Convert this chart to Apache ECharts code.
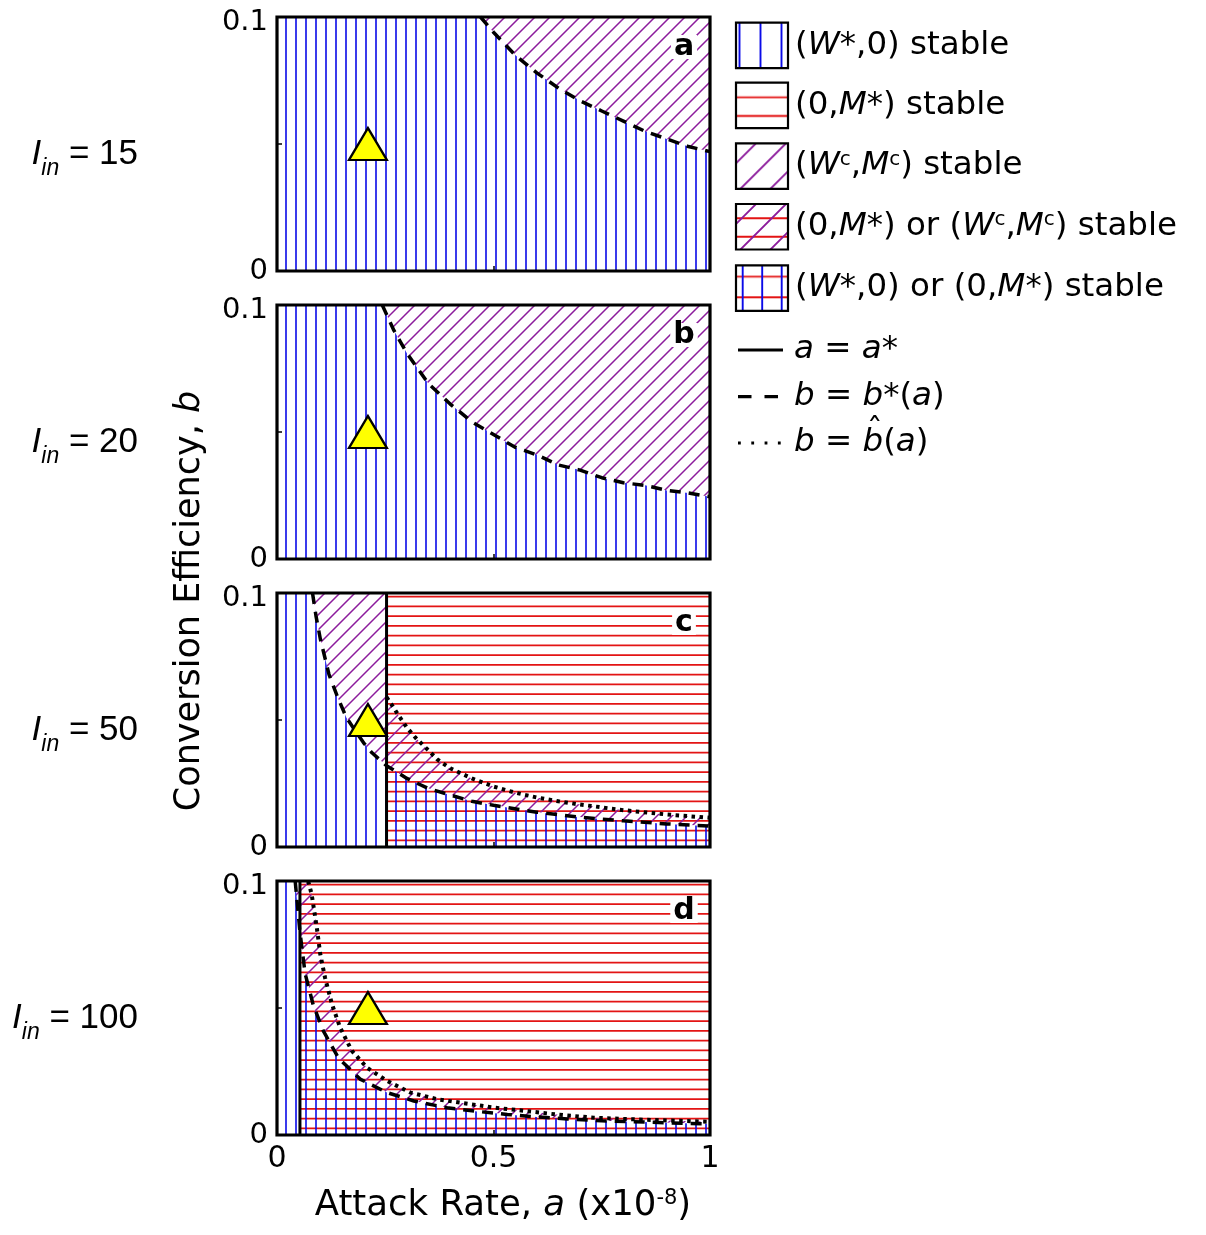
<!DOCTYPE html>
<html><head><meta charset="utf-8">
<script src="https://cdn.jsdelivr.net/npm/echarts@6/dist/echarts.min.js"></script>
<style>html,body{margin:0;padding:0;background:#fff}#c{width:1206px;height:1235px}</style>
</head><body><div id="c"></div>
<script>
// ================= DATA =================
const inflowValues = ['15', '20', '50', '100'];
const panelLetters = ['a', 'b', 'c', 'd'];
const xTicks = [0, 0.5, 1];
const xTickLabels = ['0', '0.5', '1'];
const yTicks = [0, 0.1];
const yTickLabels = ['0', '0.1'];
const trianglePoint = [0.21, 0.05];

// I_in = 15 : b = b*(a)
const bStar15_a = [0.47, 0.5, 0.55, 0.6, 0.65, 0.7, 0.75, 0.8, 0.85, 0.9, 0.95, 1.0];
const bStar15_b = [0.100, 0.094, 0.085, 0.078, 0.072, 0.067, 0.063, 0.059, 0.055, 0.052, 0.049, 0.047];
// I_in = 20
const bStar20_a = [0.243, 0.27, 0.3, 0.35, 0.4, 0.45, 0.5, 0.55, 0.6, 0.65, 0.7, 0.75, 0.8, 0.85, 0.9, 0.95, 1.0];
const bStar20_b = [0.100, 0.090, 0.081, 0.069, 0.061, 0.054, 0.049, 0.044, 0.041, 0.037, 0.035, 0.032, 0.030, 0.029, 0.027, 0.026, 0.0245];
// I_in = 50
const aStar50 = 0.253;
const bStar50_a = [0.082, 0.09, 0.1, 0.11, 0.12, 0.14, 0.16, 0.18, 0.2, 0.22, 0.253, 0.3, 0.35, 0.4, 0.45, 0.5, 0.6, 0.7, 0.8, 0.9, 1.0];
const bStar50_b = [0.100, 0.091, 0.082, 0.075, 0.068, 0.059, 0.051, 0.046, 0.041, 0.037, 0.032, 0.027, 0.023, 0.0205, 0.018, 0.0164, 0.0137, 0.0117, 0.0103, 0.0091, 0.0082];
const bHat50_a = [0.253, 0.265, 0.28, 0.3, 0.32, 0.35, 0.37, 0.4, 0.45, 0.5, 0.55, 0.6, 0.65, 0.7, 0.8, 0.9, 1.0];
const bHat50_b = [0.059, 0.056, 0.052, 0.047, 0.043, 0.038, 0.0345, 0.031, 0.027, 0.0238, 0.0214, 0.0195, 0.018, 0.0167, 0.0145, 0.0128, 0.0115];
// I_in = 100
const aStar100 = 0.053;
const bStar100_a = [0.042, 0.053, 0.065, 0.084, 0.107, 0.142, 0.192, 0.254, 0.316, 0.393, 0.462, 0.532, 0.6, 0.671, 0.75, 0.81, 0.9, 1.0];
const bStar100_b = [0.100, 0.080, 0.0635, 0.051, 0.041, 0.0303, 0.022, 0.0167, 0.0134, 0.0107, 0.0093, 0.0081, 0.0071, 0.0063, 0.0056, 0.0053, 0.0048, 0.0043];
const bHat100_a = [0.072, 0.08, 0.092, 0.1, 0.111, 0.127, 0.146, 0.173, 0.208, 0.254, 0.308, 0.37, 0.424, 0.5, 0.578, 0.65, 0.732, 0.85, 1.0];
const bHat100_b = [0.100, 0.0948, 0.0816, 0.0711, 0.0619, 0.0515, 0.0422, 0.0331, 0.0265, 0.0213, 0.0167, 0.0141, 0.0127, 0.0108, 0.0094, 0.0080, 0.0068, 0.0060, 0.0052];

// ================= SETUP =================
const X_MIN = 0, X_MAX = 1, Y_MIN = 0, Y_MAX = 0.1;
const FONT = 'DejaVu Sans';
const FONT2 = 'Liberation Sans';
const GRID_LEFT = 277, GRID_W = 433, GRID_H = 254;
const gridTops = [17, 305, 593, 881];
const BLUE = '#0a0ae8', RED = '#e31414', PURPLE = '#8c1c9c';

const pts = (A, B) => A.map((a, i) => [a, B[i]]);
const panels = [
  { star: pts(bStar15_a, bStar15_b), hat: null, aStar: null },
  { star: pts(bStar20_a, bStar20_b), hat: null, aStar: null },
  { star: pts(bStar50_a, bStar50_b), hat: pts(bHat50_a, bHat50_b), aStar: aStar50 },
  { star: pts(bStar100_a, bStar100_b), hat: pts(bHat100_a, bHat100_b), aStar: aStar100 }
];

function patternCanvas(w, h, spec) {
  const c = document.createElement('canvas'); c.width = w; c.height = h;
  const g = c.getContext('2d');
  g.fillStyle = '#fff'; g.fillRect(0, 0, w, h);
  g.lineCap = 'butt';
  if (spec.h) { const s = spec.h; g.strokeStyle = s.color; g.lineWidth = s.width; g.beginPath();
    for (let y = s.off; y < h; y += s.step) { g.moveTo(0, y); g.lineTo(w, y); } g.stroke(); }
  if (spec.d) { const s = spec.d; g.strokeStyle = s.color; g.lineWidth = s.width; g.beginPath();
    for (let k = s.off; k <= w + h + s.step; k += s.step) { g.moveTo(k, 0); g.lineTo(k - h, h); } g.stroke(); }
  if (spec.v) { const s = spec.v; g.strokeStyle = s.color; g.lineWidth = s.width; g.beginPath();
    for (let x = s.off; x < w; x += s.step) { g.moveTo(x, 0); g.lineTo(x, h); } g.stroke(); }
  return c;
}
const PAT = 390;
const vSpec = { step: 10, off: 6, color: BLUE, width: 1.6 };
const hSpec = { step: 9.75, off: 3.6, color: RED, width: 1.6 };
const dSpec = { step: 15, off: 10, color: PURPLE, width: 1.5 };
const canvases = {
  blue: patternCanvas(PAT, PAT, { v: vSpec }),
  red: patternCanvas(PAT, PAT, { h: hSpec }),
  purple: patternCanvas(PAT, PAT, { d: dSpec }),
  redPurple: patternCanvas(PAT, PAT, { h: hSpec, d: dSpec }),
  redBlue: patternCanvas(PAT, PAT, { h: hSpec, v: vSpec })
};
const fillFor = (name, top) => ({ image: canvases[name], repeat: 'repeat', x: 0, y: top });

function regionSeries(gi, poly, fill) {
  return {
    type: 'custom', coordinateSystem: 'cartesian2d', xAxisIndex: gi, yAxisIndex: gi,
    data: poly, silent: true, clip: true, z: 2,
    renderItem: function (params, api) {
      if (params.dataIndex !== 0) return null;
      return { type: 'polygon', shape: { points: poly.map(p => api.coord(p)) }, style: { fill: fill, stroke: null } };
    }
  };
}
function frameSeries(gi) {
  return {
    type: 'custom', coordinateSystem: 'cartesian2d', xAxisIndex: gi, yAxisIndex: gi,
    data: [[X_MIN, Y_MIN]], silent: true, clip: false, z: 8,
    renderItem: function (params, api) {
      const p0 = api.coord([X_MIN, Y_MAX]), p1 = api.coord([X_MAX, Y_MIN]);
      return { type: 'rect', shape: { x: p0[0], y: p0[1], width: p1[0] - p0[0], height: p1[1] - p0[1] },
        style: { fill: null, stroke: '#000', lineWidth: 3.2 } };
    }
  };
}

const grids = [], xAxes = [], yAxes = [], series = [];
panels.forEach((p, gi) => {
  const top = gridTops[gi];
  grids.push({ left: GRID_LEFT, top: top, width: GRID_W, height: GRID_H, show: false });
  xAxes.push({ gridIndex: gi, type: 'value', min: X_MIN, max: X_MAX, interval: 0.5, z: 12,
    axisLine: { show: false }, splitLine: { show: false },
    axisTick: { show: true, inside: true, length: 5, lineStyle: { color: '#000', width: 1.5 } },
    axisLabel: { show: gi === 3, margin: 9, fontSize: 30, fontFamily: FONT, color: '#000',
      showMinLabel: true, showMaxLabel: true,
      formatter: v => { const k = xTicks.findIndex(t => Math.abs(t - v) < 1e-9); return k < 0 ? '' : xTickLabels[k]; } } });
  yAxes.push({ gridIndex: gi, type: 'value', min: Y_MIN, max: Y_MAX, interval: 0.05, z: 12,
    axisLine: { show: false }, splitLine: { show: false },
    axisTick: { show: true, inside: true, length: 5, lineStyle: { color: '#000', width: 1.5 } },
    axisLabel: { margin: 9, fontSize: 29, fontFamily: FONT, color: '#000', showMinLabel: true, showMaxLabel: true,
      formatter: v => { const k = yTicks.findIndex(t => Math.abs(t - v) < 1e-9);
        if (k < 0) return ''; return k === yTicks.length - 1 ? '{top|' + yTickLabels[k] + '}' : yTickLabels[k]; },
      rich: { top: { fontSize: 29, fontFamily: FONT, color: '#000', padding: [10, 0, 0, 0] } } } });

  const regs = [];
  regs.push([[[X_MIN, Y_MIN], [X_MAX, Y_MIN], [X_MAX, Y_MAX], [X_MIN, Y_MAX]], 'blue']);
  if (p.aStar == null) {
    regs.push([p.star.concat([[X_MAX, Y_MAX]]), 'purple']);
  } else {
    const left = p.star.filter(q => q[0] <= p.aStar);
    const right = p.star.filter(q => q[0] >= p.aStar);
    regs.push([left.concat([[p.aStar, Y_MAX]]), 'purple']);
    regs.push([[[p.aStar, Y_MIN], [X_MAX, Y_MIN], [X_MAX, Y_MAX], [p.aStar, Y_MAX]], 'red']);
    const hatPart = p.hat.filter(q => q[0] >= p.aStar);
    const upper = (hatPart[0][0] > p.aStar ? [[p.aStar, Y_MAX]] : []).concat(hatPart);
    regs.push([upper.concat(right.slice().reverse()), 'redPurple']);
    regs.push([[[p.aStar, Y_MIN], [X_MAX, Y_MIN]].concat(right.slice().reverse()), 'redBlue']);
  }
  regs.forEach(r => series.push(regionSeries(gi, r[0], fillFor(r[1], top))));

  if (p.hat) series.push({ type: 'line', xAxisIndex: gi, yAxisIndex: gi, data: p.hat, symbol: 'none', silent: true, z: 5,
    clip: true, lineStyle: { color: '#000', width: 4, type: [3.5, 4.5], cap: 'butt' } });
  series.push({ type: 'line', xAxisIndex: gi, yAxisIndex: gi, data: p.star, symbol: 'none', silent: true, z: 5,
    clip: true, lineStyle: { color: '#000', width: 3.5, type: [11, 8] } });
  if (p.aStar != null) series.push({ type: 'line', xAxisIndex: gi, yAxisIndex: gi,
    data: [[p.aStar, Y_MIN], [p.aStar, Y_MAX]], symbol: 'none', silent: true, z: 5,
    lineStyle: { color: '#000', width: 3, type: 'solid' } });
  series.push(frameSeries(gi));
  series.push({ type: 'scatter', xAxisIndex: gi, yAxisIndex: gi, data: [trianglePoint], symbol: 'triangle',
    symbolSize: [38, 32], silent: true, z: 9,
    itemStyle: { color: '#ffff00', borderColor: '#000', borderWidth: 2.2, opacity: 1 } });
});

// ================= TEXT / LEGEND =================
const graphics = [];
const mkRich = (size, sup, fam, subPad) => ({
  n: { fontSize: size, fontFamily: fam, color: '#000', verticalAlign: 'top' },
  i: { fontSize: size, fontFamily: fam, fontStyle: 'italic', color: '#000', verticalAlign: 'top' },
  s: { fontSize: sup, fontFamily: fam, color: '#000', verticalAlign: 'top' },
  sub: { fontSize: sup, fontFamily: fam, fontStyle: 'italic', color: '#000', verticalAlign: 'top', padding: [subPad || 0, 0, 0, 0] }
});

// panel letters and I_in labels
panels.forEach((p, gi) => {
  const top = gridTops[gi];
  graphics.push({ type: 'text', x: 684, y: top + 30, z: 100, silent: true,
    style: { text: panelLetters[gi], font: 'bold 30px "' + FONT + '"', fill: '#000', align: 'center',
      verticalAlign: 'middle', backgroundColor: '#fff', padding: [0, 3], lineHeight: 24 } });
  graphics.push({ type: 'text', x: 138, y: top + 137 - 17.5, z: 100, silent: true,
    style: { text: '{i|I}{sub|in}{n| = ' + inflowValues[gi] + '}', rich: mkRich(35, 23, FONT2, 21),
      align: 'right', verticalAlign: 'top', fontSize: 35, fontFamily: FONT2 } });
});

// axis titles
graphics.push({ type: 'text', x: 190, y: 601, rotation: Math.PI / 2, z: 100, silent: true,
  style: { text: '{n|Conversion Efficiency, }{i|b}', rich: mkRich(35, 21, FONT), align: 'center', verticalAlign: 'middle',
    fontSize: 35, fontFamily: FONT } });
graphics.push({ type: 'text', x: 503, y: 1188, z: 100, silent: true,
  style: { text: '{n|Attack Rate, }{i|a}{n| (x10}{s|-8}{n|)}', rich: mkRich(35.5, 21, FONT), align: 'center', verticalAlign: 'top',
    fontSize: 35.5, fontFamily: FONT } });

// legend swatches
const SW_X = 736, SW_W = 52, SW_H = 45.5;
const legendSwatches = [
  { y: 22.7, spec: { v: { step: 21, off: 3.5, color: BLUE, width: 1.9 } }, text: '{n|(}{i|W}{n|*,0) stable}' },
  { y: 82.7, spec: { h: { step: 18.7, off: 14.6, color: RED, width: 1.9 } }, text: '{n|(0,}{i|M}{n|*) stable}' },
  { y: 143.3, spec: { d: { step: 30, off: 20, color: PURPLE, width: 1.8 } }, text: '{n|(}{i|W}{s|c}{n|,}{i|M}{s|c}{n|) stable}' },
  { y: 204, spec: { h: { step: 18.4, off: 14.3, color: RED, width: 1.9 }, d: { step: 30, off: 20, color: PURPLE, width: 1.8 } },
    text: '{n|(0,}{i|M}{n|*) or (}{i|W}{s|c}{n|,}{i|M}{s|c}{n|) stable}' },
  { y: 265.3, spec: { h: { step: 20.6, off: 11.4, color: RED, width: 1.9 }, v: { step: 19.5, off: 6.7, color: BLUE, width: 1.9 } },
    text: '{n|(}{i|W}{n|*,0) or (0,}{i|M}{n|*) stable}' }
];
legendSwatches.forEach(s => {
  const cv = patternCanvas(SW_W, Math.ceil(SW_H), s.spec);
  graphics.push({ type: 'rect', x: SW_X, y: s.y, z: 100, silent: true,
    shape: { x: 0, y: 0, width: SW_W, height: SW_H },
    style: { fill: { image: cv, repeat: 'no-repeat' }, stroke: '#000', lineWidth: 2.2 } });
  graphics.push({ type: 'text', x: 795, y: s.y + SW_H / 2, z: 100, silent: true,
    style: { text: s.text, rich: mkRich(32.5, 20, FONT), align: 'left', verticalAlign: 'middle', fontSize: 32.5, fontFamily: FONT } });
});

// legend lines
const lineRows = [
  { y: 350, dash: null, width: 3, text: '{i|a}{n| = }{i|a}{n|*}' },
  { y: 396.7, dash: [13.5, 13], width: 3.2, text: '{i|b}{n| = }{i|b}{n|*(}{i|a}{n|)}' },
  { y: 443, dash: [2.8, 10.5], width: 2.8, text: '{i|b}{n| = }{i|b}{n|(}{i|a}{n|)}' }
];
lineRows.forEach(r => {
  graphics.push({ type: 'line', z: 100, silent: true, shape: { x1: 738, y1: r.y, x2: 783, y2: r.y },
    style: { stroke: '#000', lineWidth: r.width, lineDash: r.dash || null, lineCap: 'butt' } });
  graphics.push({ type: 'text', x: 794, y: r.y, z: 100, silent: true,
    style: { text: r.text, rich: mkRich(32.5, 20, FONT), align: 'left', verticalAlign: 'middle', fontSize: 32.5, fontFamily: FONT } });
});
// hat over b in the last legend row
(function () {
  const g = document.createElement('canvas').getContext('2d');
  g.font = 'italic 32.5px "' + FONT + '"'; const wb = g.measureText('b').width;
  g.font = '32.5px "' + FONT + '"'; const weq = g.measureText(' = ').width;
  graphics.push({ type: 'text', x: 794 + wb + weq + wb / 2 + 2, y: 443 - 10, z: 100, silent: true,
    style: { text: '\u02C6', font: '32px "' + FONT + '"', fill: '#000', align: 'center', verticalAlign: 'middle' } });
})();

const chart = echarts.init(document.getElementById('c'), null, { renderer: 'canvas', width: 1206, height: 1235 });
chart.setOption({
  animation: false,
  backgroundColor: '#fff',
  grid: grids, xAxis: xAxes, yAxis: yAxes, series: series,
  graphic: { elements: graphics }
});
</script></body></html>
